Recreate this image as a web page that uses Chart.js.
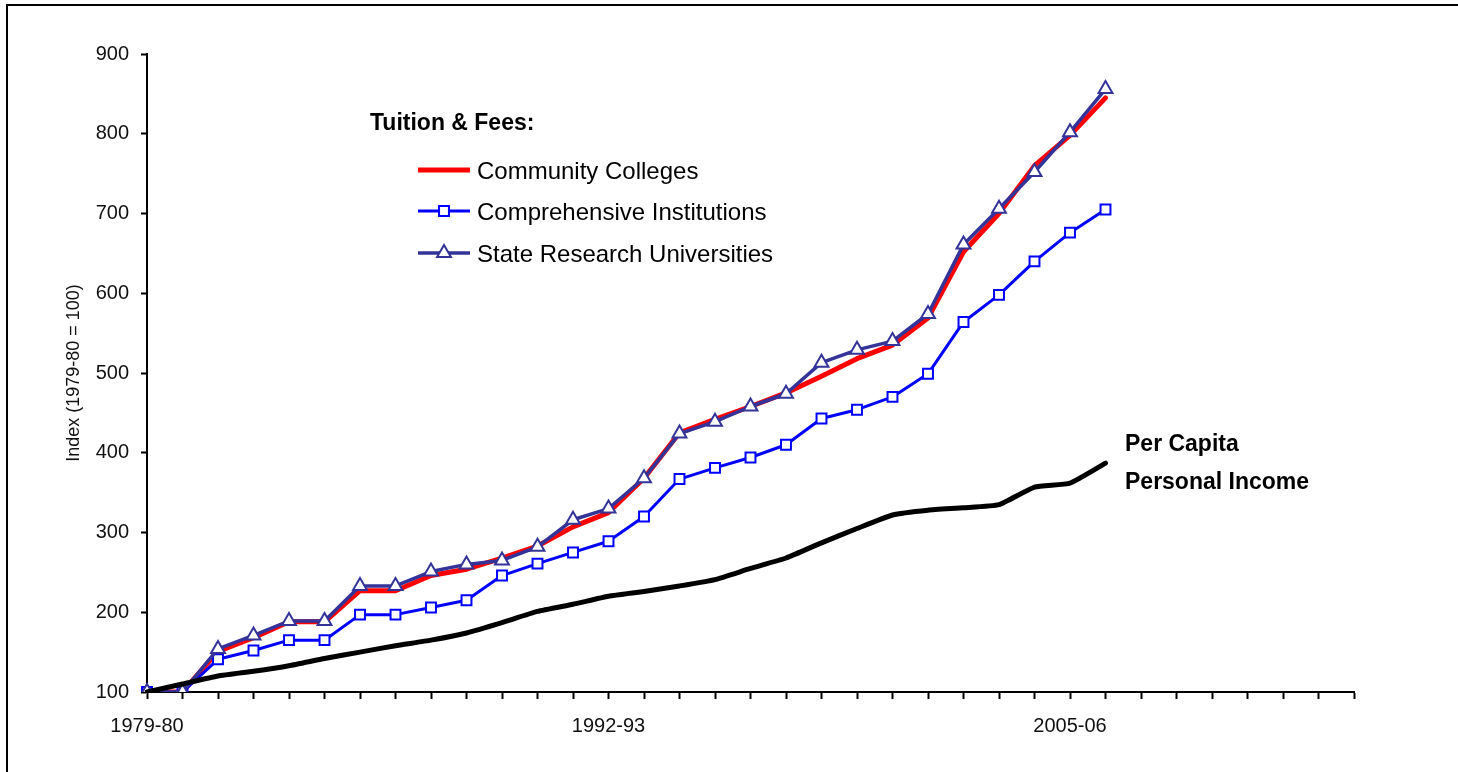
<!DOCTYPE html>
<html>
<head>
<meta charset="utf-8">
<title>Tuition & Fees vs Per Capita Personal Income</title>
<script src="https://cdn.jsdelivr.net/npm/chart.js@4.4.1/dist/chart.umd.min.js"></script>
<style>
  html, body { margin: 0; padding: 0; background: #fff; }
  #wrap { position: relative; width: 1458px; height: 772px; }
</style>
</head>
<body>
<div id="wrap"><canvas id="myChart"></canvas></div>
<script>
// Años académicos del eje X
var years = [
  '1979-80', '1980-81', '1981-82', '1982-83', '1983-84', '1984-85', '1985-86',
  '1986-87', '1987-88', '1988-89', '1989-90', '1990-91', '1991-92', '1992-93',
  '1993-94', '1994-95', '1995-96', '1996-97', '1997-98', '1998-99', '1999-00',
  '2000-01', '2001-02', '2002-03', '2003-04', '2004-05', '2005-06', '2006-07',
  '2007-08', '2008-09', '2009-10', '2010-11', '2011-12', '2012-13', '2013-14'
];
// Etiquetas que sí se muestran bajo el eje
var shownYears = ['1979-80', '1992-93', '2005-06'];

// Índices (1979-80 = 100)
var communityColleges = [100, 100, 151, 168, 188, 188, 227, 227, 246, 254, 268, 283, 307, 325,
                         368, 425, 442, 458, 475, 496, 518, 535, 569, 652, 700, 760, 798, 845];
var comprehensive     = [100, 100, 141, 152, 165, 165, 197, 197, 206, 215, 246, 261, 275, 289,
                         320, 367, 381, 394, 410, 443, 454, 470, 499, 564, 598, 640, 676, 705];
var stateResearch     = [100, 100, 154, 171, 189, 189, 233, 233, 251, 260, 265, 282, 316, 330,
                         368, 424, 439, 458, 474, 513, 529, 540, 574, 661, 706, 752, 802, 856];
var perCapitaIncome   = [100, 110, 120, 126, 133, 142, 150, 158, 165, 174, 187, 201, 210, 220,
                         226, 233, 241, 255, 268, 287, 305, 322, 328, 331, 335, 357, 362, 387];

var fontFamily = "'Liberation Sans', Arial, sans-serif";
Chart.defaults.font.family = fontFamily;
Chart.defaults.color = '#000';

// Marco exterior (solo izquierda y arriba)
var frame = {
  id: 'frame',
  beforeDraw: function(chart) {
    var c = chart.ctx;
    c.save();
    c.strokeStyle = '#000';
    c.lineWidth = 2;
    c.beginPath();
    c.moveTo(7, chart.height);
    c.lineTo(7, 5);
    c.lineTo(chart.width, 5);
    c.stroke();
    c.restore();
  }
};

// Leyenda "Tuition & Fees:" y rótulo de la renta per cápita
var notes = {
  id: 'notes',
  afterDatasetsDraw: function(chart) {
    var c = chart.ctx;
    var a = chart.chartArea;
    var ds = chart.data.datasets;
    c.save();
    c.textBaseline = 'alphabetic';
    c.textAlign = 'left';

    c.fillStyle = '#000';
    c.font = 'bold 23px ' + fontFamily;
    c.fillText('Tuition & Fees:', a.left + 223, a.top + 76);

    c.font = '24px ' + fontFamily;
    var rows = [0, 1, 2];
    var baselines = [125, 166, 208];
    rows.forEach(function(i, k) {
      var d = ds[i];
      var y = a.top + baselines[k] - 9;
      var x0 = a.left + 271, x1 = a.left + 323;
      c.strokeStyle = d.borderColor;
      c.lineWidth = d.borderWidth;
      c.beginPath();
      c.moveTo(x0, y);
      c.lineTo(x1, y);
      c.stroke();
      if (d.pointRadius > 0) {
        c.fillStyle = d.pointBackgroundColor;
        c.strokeStyle = d.pointBorderColor;
        c.lineWidth = d.pointBorderWidth;
        Chart.helpers.drawPoint(c, {
          pointStyle: d.pointStyle, radius: d.pointRadius,
          rotation: 0, borderWidth: d.pointBorderWidth
        }, (x0 + x1) / 2, y);
      }
      c.fillStyle = '#000';
      c.fillText(d.label, a.left + 330, a.top + baselines[k]);
    });

    c.font = 'bold 23px ' + fontFamily;
    c.fillText('Per Capita', a.left + 978, a.top + 397);
    c.fillText('Personal Income', a.left + 978, a.top + 435);
    c.restore();
  }
};

var ctx = document.getElementById('myChart').getContext('2d');
var chart = new Chart(ctx, {
  type: 'line',
  data: {
    labels: years,
    datasets: [{
      label: 'Community Colleges',
      data: communityColleges,
      borderColor: '#ff0000',
      borderWidth: 5,
      pointRadius: 0,
      order: 4
    }, {
      label: 'Comprehensive Institutions',
      data: comprehensive,
      borderColor: '#0000ff',
      borderWidth: 3,
      pointStyle: 'rect',
      pointRadius: 7,
      pointBackgroundColor: '#ffffff',
      pointBorderColor: '#0000ff',
      pointBorderWidth: 2,
      order: 3
    }, {
      label: 'State Research Universities',
      data: stateResearch,
      borderColor: '#333399',
      borderWidth: 3.5,
      pointStyle: 'triangle',
      pointRadius: 8,
      pointBackgroundColor: '#ffffff',
      pointBorderColor: '#333399',
      pointBorderWidth: 2,
      order: 2
    }, {
      label: 'Per Capita Personal Income',
      data: perCapitaIncome,
      borderColor: '#000000',
      borderWidth: 5,
      pointRadius: 0,
      tension: 0.15,
      order: 1
    }]
  },
  options: {
    responsive: true,
    maintainAspectRatio: false,
    animation: false,
    layout: { padding: { left: 0, top: 54, right: 104, bottom: 0 } },
    plugins: {
      legend: { display: false },
      tooltip: { enabled: false }
    },
    elements: { line: { borderJoinStyle: 'round', borderCapStyle: 'round' } },
    scales: {
      x: {
        offset: false,
        border: { color: '#000', width: 2 },
        grid: { drawOnChartArea: false, tickLength: 7, tickWidth: 2, tickColor: '#000' },
        ticks: {
          autoSkip: false,
          maxRotation: 0,
          padding: 15,
          color: '#111',
          font: { size: 20 },
          callback: function(value) {
            var l = this.getLabelForValue(value);
            return shownYears.indexOf(l) >= 0 ? l : '';
          }
        },
        afterFit: function(scale) { scale.height = 80; }
      },
      y: {
        min: 100,
        max: 900,
        border: { color: '#000', width: 2 },
        grid: { drawOnChartArea: false, tickLength: 6, tickWidth: 2, tickColor: '#000' },
        ticks: { stepSize: 100, padding: 12, color: '#111', font: { size: 20 } },
        title: {
          display: true,
          text: 'Index (1979-80 = 100)',
          color: '#111',
          font: { size: 18 },
          padding: { top: 63, bottom: 0 }
        },
        afterFit: function(scale) { scale.width = 147; }
      }
    }
  },
  plugins: [frame, notes]
});
</script>
</body>
</html>
